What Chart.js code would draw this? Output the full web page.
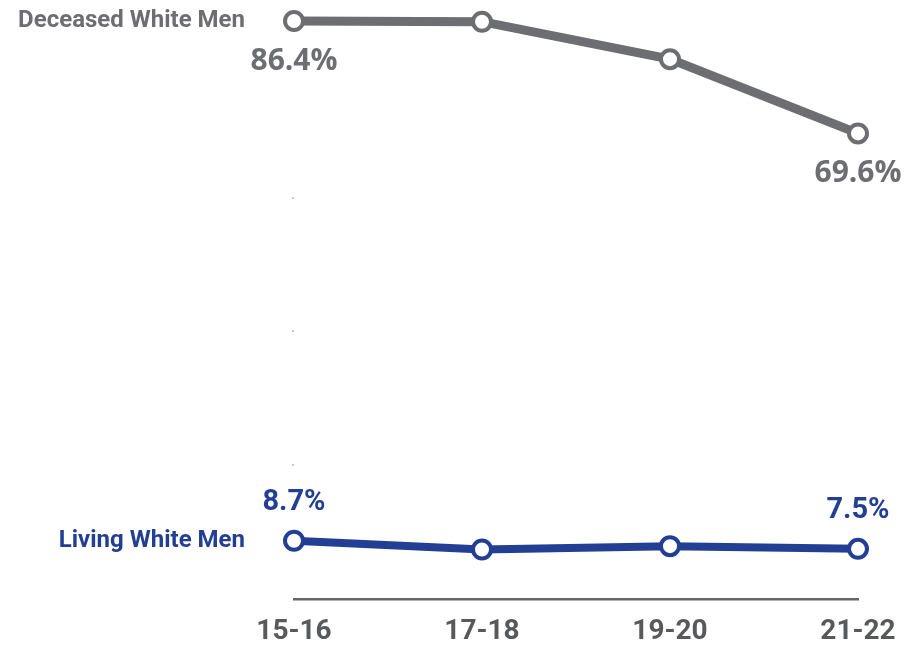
<!DOCTYPE html>
<html lang="en">
<head>
    <meta charset="UTF-8">
    <title>Deceased vs Living White Men</title>
    <script src="https://cdn.jsdelivr.net/npm/chart.js"></script>
    <style>
        body {
            margin: 0;
            background-color: #ffffff;
        }

        #grafico {
            display: block;
        }
    </style>
</head>
<body>

<canvas id="grafico" width="916" height="646"></canvas>

<script>
    const periodos = ['15-16', '17-18', '19-20', '21-22'];
    const fallecidos = [86.4, 86.3, 80.7, 69.6];
    const vivos = [8.7, 7.4, 7.9, 7.5];
    const marcasEje = [20, 40, 60];

    const GRIS = '#6d6e71';
    const AZUL = '#233f94';

    // nombres de las series y porcentajes del primer y ultimo punto
    const etiquetasPlugin = {
        id: 'etiquetas',
        afterDatasetsDraw(chart) {
            const ctx = chart.ctx;
            const area = chart.chartArea;
            chart.data.datasets.forEach((ds, i) => {
                const puntos = chart.getDatasetMeta(i).data;
                ctx.save();
                ctx.fillStyle = ds.borderColor;

                ctx.font = 'bold 24px Roboto';
                ctx.textAlign = 'right';
                ctx.textBaseline = 'middle';
                ctx.fillText(ds.label, area.left - 49, puntos[0].y);

                ctx.font = ds.fuenteValor;
                ctx.textAlign = 'center';
                [0, puntos.length - 1].forEach(j => {
                    const p = puntos[j];
                    ctx.fillText(ds.data[j].toFixed(1) + '%', p.x, p.y + ds.desfase);
                });
                ctx.restore();
            });
        }
    };

    new Chart(document.getElementById('grafico'), {
        type: 'line',
        data: {
            labels: periodos,
            datasets: [{
                label: 'Deceased White Men',
                data: fallecidos,
                borderColor: GRIS,
                borderWidth: 9,
                pointRadius: 9,
                pointBorderWidth: 4,
                pointBackgroundColor: '#ffffff',
                pointBorderColor: GRIS,
                fuenteValor: 'bold 30px "Open Sans"',
                desfase: 40,
                clip: false
            }, {
                label: 'Living White Men',
                data: vivos,
                borderColor: AZUL,
                borderWidth: 8,
                pointRadius: 9,
                pointBorderWidth: 4,
                pointBackgroundColor: '#ffffff',
                pointBorderColor: AZUL,
                fuenteValor: 'bold 29px Roboto',
                desfase: -38,
                clip: false
            }]
        },
        options: {
            responsive: false,
            animation: false,
            layout: {
                padding: { left: 292, right: 58, top: 3, bottom: 0 }
            },
            plugins: {
                legend: { display: false },
                tooltip: { enabled: false }
            },
            scales: {
                x: {
                    offset: false,
                    grid: { display: false, drawTicks: false },
                    border: { display: true, color: '#666666', width: 2.5 },
                    ticks: {
                        padding: 16,
                        color: '#58595b',
                        font: { family: 'Roboto', weight: 'bold', size: 28 }
                    },
                    afterFit: scale => { scale.height = 47; }
                },
                y: {
                    min: 0,
                    max: 87.6,
                    ticks: { display: false, stepSize: 20 },
                    border: { display: false },
                    grid: {
                        drawOnChartArea: false,
                        tickLength: 2,
                        lineWidth: 2,
                        color: c => marcasEje.includes(c.tick.value) ? '#c8c8c8' : 'rgba(0,0,0,0)'
                    },
                    afterFit: scale => { scale.width = 2; }
                }
            }
        },
        plugins: [etiquetasPlugin]
    });
</script>
</body>
</html>
